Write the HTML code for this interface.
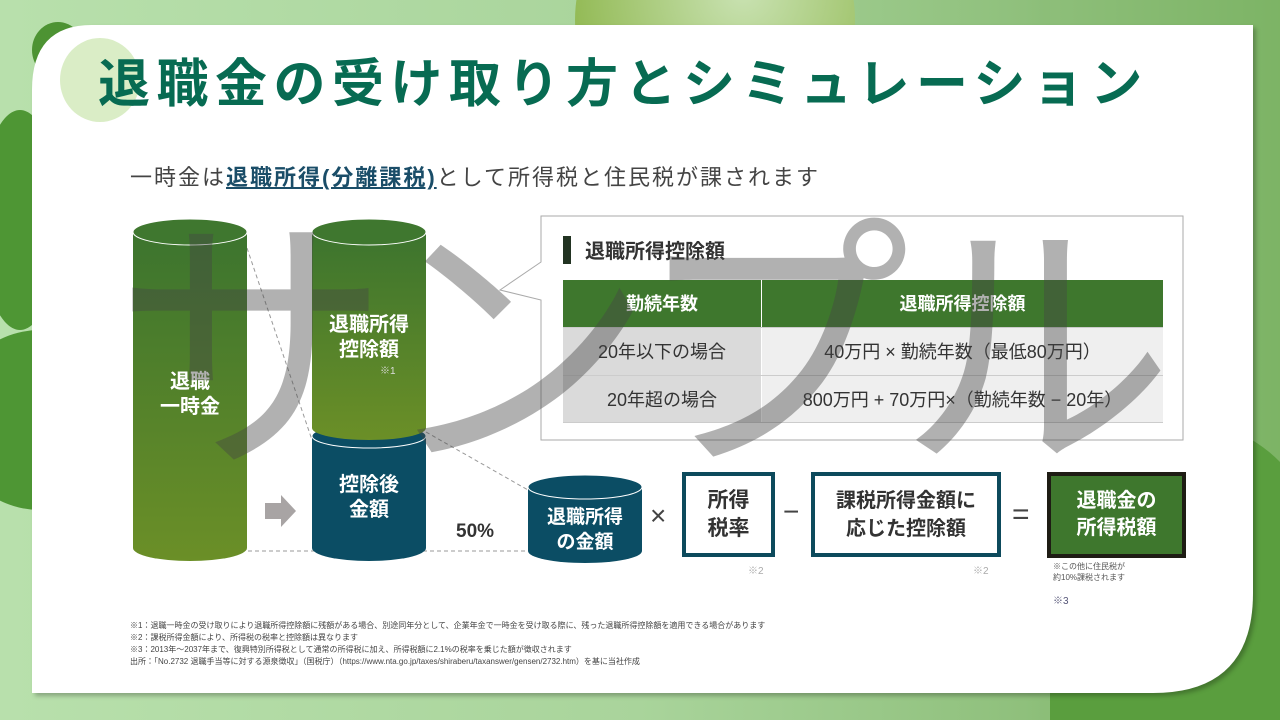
<!DOCTYPE html>
<html><head><meta charset="utf-8"><style>
body{margin:0;width:1280px;height:720px;overflow:hidden;position:relative;font-family:"Liberation Sans","Noto Sans CJK JP",sans-serif;background:linear-gradient(90deg,#b8e0ac 0%,#a9d49b 50%,#8fc07c 80%,#6aa84f 100%);}
.a{position:absolute}
.box{position:absolute;border:4px solid #0d4a5c;background:#fff;color:#333;font-weight:bold;font-size:21px;line-height:28px;text-align:center;display:flex;align-items:center;justify-content:center;box-sizing:border-box}
td{border-bottom:1px solid #ccc}
</style></head><body>
<svg class="a" style="left:0;top:0" width="1280" height="720">
<defs>
<linearGradient id="g1" x1="0" y1="0" x2="0" y2="1"><stop offset="0" stop-color="#3c742e"/><stop offset="1" stop-color="#6b8f27"/></linearGradient>
<radialGradient id="bg2" cx="0.6" cy="0.4" r="0.6"><stop offset="0" stop-color="#c9e2b2"/><stop offset="1" stop-color="#94bb57"/></radialGradient>
</defs>
<circle cx="715" cy="20" r="140" fill="url(#bg2)"/>
<rect x="1050" y="0" width="230" height="720" fill="#8fc07c" opacity="0.5"/>
<circle cx="1180" cy="560" r="140" fill="#5a9e3e"/>
<rect x="1050" y="600" width="230" height="120" fill="#5a9e3e"/>
<ellipse cx="20" cy="220" rx="40" ry="110" fill="#4e9634"/>
<circle cx="40" cy="420" r="90" fill="#4e9634"/>
<ellipse cx="58" cy="50" rx="26" ry="28" fill="#4d9333"/>
<path d="M92 25 H1253 V593 Q1253 693 1153 693 H32 V90 Q32 25 92 25Z" fill="#fff" style="filter:drop-shadow(3px 3px 2px rgba(0,0,0,0.25))"/>
<ellipse cx="100" cy="80" rx="40" ry="42" fill="#d6ebc0" opacity="0.9"/>
<path d="M247 248 L312 440 M248 551 H528 M426 432 L528 490" stroke="#999" stroke-dasharray="4 3" fill="none"/>
<path d="M133 232 V548 A57 13 0 0 0 247 548 V232Z" fill="url(#g1)"/>
<ellipse cx="190" cy="232" rx="57" ry="13" fill="#3f772f" stroke="#fff" stroke-width="1"/>
<path d="M312 436 V548 A57 13 0 0 0 426 548 V436Z" fill="#0b4d64"/>
<ellipse cx="369" cy="436" rx="57" ry="12" fill="#0b4d64" stroke="#fff"/>
<path d="M312 232 V428 A57 12 0 0 0 426 428 V232Z" fill="url(#g1)"/>
<ellipse cx="369" cy="232" rx="57" ry="13" fill="#3f772f" stroke="#fff"/>
<path d="M528 487 V551 A57 12 0 0 0 642 551 V487Z" fill="#0b4d64"/>
<ellipse cx="585" cy="487" rx="57" ry="12" fill="#0b4d64" stroke="#fff"/>
<path d="M265 503 H281 V495 L296 511 L281 527 V519 H265Z" fill="#a8a4a4"/>
<path d="M541 216 H1183 V440 H541 V300 L500 290 L541 262Z" fill="#fff" stroke="#aaa"/>
<rect x="563" y="236" width="8" height="28" fill="#223322"/>
</svg>
<div class="a" style="left:98px;top:42px;font-size:52px;font-weight:bold;color:#076b52;letter-spacing:6.5px;white-space:nowrap">退職金の受け取り方とシミュレーション</div>
<div class="a" style="left:130px;top:160px;font-size:22px;color:#444;white-space:nowrap;letter-spacing:2px">一時金は<b style="color:#1a4d68;text-decoration:underline">退職所得(分離課税)</b>として所得税と住民税が課されます</div>
<div class="a" style="left:133px;top:370px;width:114px;text-align:center;color:#fff;font-weight:bold;font-size:20px;line-height:25px">退職<br>一時金</div>
<div class="a" style="left:312px;top:313px;width:114px;text-align:center;color:#fff;font-weight:bold;font-size:20px;line-height:25px">退職所得<br>控除額</div>
<div class="a" style="left:380px;top:362px;font-size:10px;color:#ddd">※1</div>
<div class="a" style="left:312px;top:473px;width:114px;text-align:center;color:#fff;font-weight:bold;font-size:20px;line-height:25px">控除後<br>金額</div>
<div class="a" style="left:456px;top:521px;font-size:19px;font-weight:bold;color:#333">50%</div>
<div class="a" style="left:528px;top:505px;width:114px;text-align:center;color:#fff;font-weight:bold;font-size:19px;line-height:25px">退職所得<br>の金額</div>
<div class="a" style="left:650px;top:500px;font-size:28px;color:#444">×</div>
<div class="box" style="left:682px;top:472px;width:93px;height:85px">所得<br>税率</div>
<div class="a" style="left:783px;top:496px;font-size:28px;color:#444">−</div>
<div class="box" style="left:811px;top:472px;width:190px;height:85px;font-size:20px">課税所得金額に<br>応じた控除額</div>
<div class="a" style="left:1012px;top:498px;font-size:30px;color:#444">=</div>
<div class="a" style="left:1047px;top:472px;width:139px;height:86px;box-sizing:border-box;border:4px solid #1e1c14;background:#3e772d;color:#fff;font-weight:bold;font-size:20px;line-height:27px;display:flex;align-items:center;justify-content:center;text-align:center">退職金の<br>所得税額</div>
<div class="a" style="left:748px;top:562px;font-size:10px;color:#aaa">※2</div>
<div class="a" style="left:973px;top:562px;font-size:10px;color:#aaa">※2</div>
<div class="a" style="left:1053px;top:561px;font-size:8px;color:#555;line-height:11px">※この他に住民税が<br>約10%課税されます</div>
<div class="a" style="left:1053px;top:592px;font-size:10px;color:#557">※3</div>
<div class="a" style="left:585px;top:235px;font-size:20px;font-weight:bold;color:#333">退職所得控除額</div>
<table class="a" style="left:563px;top:280px;width:600px;border-collapse:collapse;font-size:18px;color:#333;text-align:center">
<tr style="height:47px;background:#3e772d;color:#fff;font-weight:bold"><td style="width:196px;border-right:1px solid #fff">勤続年数</td><td>退職所得控除額</td></tr>
<tr style="height:48px"><td style="background:#dadada;border-right:1px solid #fff">20年以下の場合</td><td style="background:#efefef">40万円 × 勤続年数（最低80万円）</td></tr>
<tr style="height:47px"><td style="background:#dadada;border-right:1px solid #fff">20年超の場合</td><td style="background:#efefef">800万円 + 70万円×（勤続年数 − 20年）</td></tr>
</table>
<div class="a" style="left:130px;top:620px;font-size:8px;line-height:12px;color:#444;white-space:nowrap">※1：退職一時金の受け取りにより退職所得控除額に残額がある場合、別途同年分として、企業年金で一時金を受け取る際に、残った退職所得控除額を適用できる場合があります<br>※2：課税所得金額により、所得税の税率と控除額は異なります<br>※3：2013年～2037年まで、復興特別所得税として通常の所得税に加え、所得税額に2.1%の税率を乗じた額が徴収されます<br>出所：「No.2732 退職手当等に対する源泉徴収」（国税庁）（https://www.nta.go.jp/taxes/shiraberu/taxanswer/gensen/2732.htm）を基に当社作成</div>
<div class="a" style="left:114px;top:182px;font-size:276px;line-height:340px;color:rgba(70,70,70,0.42);white-space:nowrap;letter-spacing:-12px">サンプル</div>
</body></html>
